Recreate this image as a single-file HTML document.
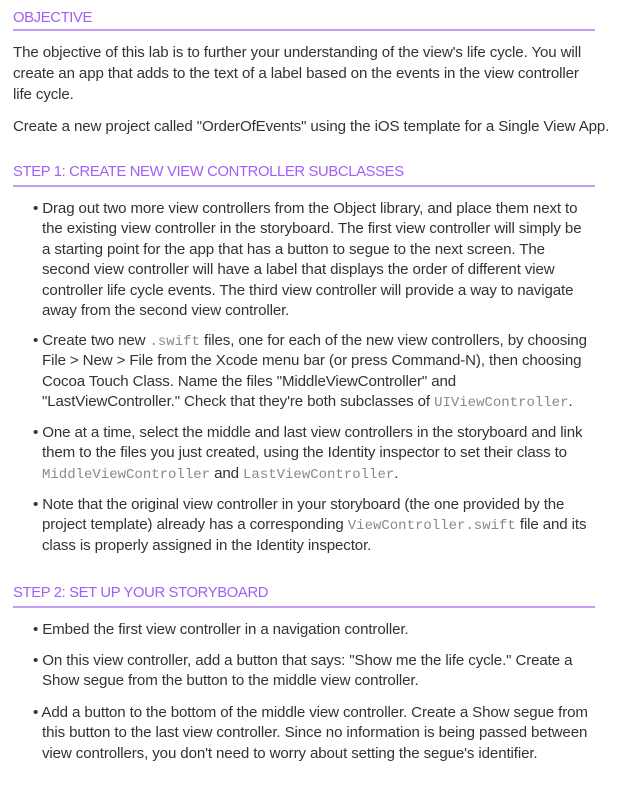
<!DOCTYPE html>
<html><head><meta charset="utf-8"><style>
body{margin:0;width:623px;height:785px;background:#fff;position:relative;overflow:hidden;font-family:"Liberation Sans",sans-serif;color:#333;}
.h{position:absolute;left:13px;color:#a35ef5;font-size:14.8px;letter-spacing:-0.35px;white-space:nowrap;line-height:20px;}
.r{position:absolute;left:13px;width:582px;height:1.5px;background:#c39cf5;}
.p{position:absolute;left:13px;font-size:15.1px;letter-spacing:-0.12px;white-space:nowrap;line-height:20.4px;}
.p div{height:20.4px;}
.b{left:33px;}
.b .t{padding-left:9px;}
.b .t:first-child{padding-left:0;}
code{font-family:"Liberation Mono",monospace;color:#8a8a8a;font-size:14px;letter-spacing:0;line-height:0;}
</style></head><body>
<div class="h" style="top:8px">OBJECTIVE</div>
<div class="r" style="top:29px"></div>
<div class="p" style="top:42px;line-height:21px">The objective of this lab is to further your understanding of the view's life cycle. You will<br>create an app that adds to the text of a label based on the events in the view controller<br>life cycle.</div>
<div class="p" style="top:117px">Create a new project called "OrderOfEvents" using the iOS template for a Single View App.</div>

<div class="h" style="top:162px">STEP 1: CREATE NEW VIEW CONTROLLER SUBCLASSES</div>
<div class="r" style="top:185px"></div>
<div class="p b" style="top:199px"><div class="t">• Drag out two more view controllers from the Object library, and place them next to</div><div class="t">the existing view controller in the storyboard. The first view controller will simply be</div><div class="t">a starting point for the app that has a button to segue to the next screen. The</div><div class="t">second view controller will have a label that displays the order of different view</div><div class="t">controller life cycle events. The third view controller will provide a way to navigate</div><div class="t">away from the second view controller.</div></div>
<div class="p b" style="top:331px"><div class="t">• Create two new <code>.swift</code> files, one for each of the new view controllers, by choosing</div><div class="t">File &gt; New &gt; File from the Xcode menu bar (or press Command-N), then choosing</div><div class="t">Cocoa Touch Class. Name the files "MiddleViewController" and</div><div class="t">"LastViewController." Check that they're both subclasses of <code>UIViewController</code>.</div></div>
<div class="p b" style="top:423px"><div class="t">• One at a time, select the middle and last view controllers in the storyboard and link</div><div class="t">them to the files you just created, using the Identity inspector to set their class to</div><div class="t"><code>MiddleViewController</code> and <code>LastViewController</code>.</div></div>
<div class="p b" style="top:495px"><div class="t">• Note that the original view controller in your storyboard (the one provided by the</div><div class="t">project template) already has a corresponding <code>ViewController.swift</code> file and its</div><div class="t">class is properly assigned in the Identity inspector.</div></div>

<div class="h" style="top:583px">STEP 2: SET UP YOUR STORYBOARD</div>
<div class="r" style="top:606px"></div>
<div class="p b" style="top:620px"><div class="t">• Embed the first view controller in a navigation controller.</div></div>
<div class="p b" style="top:651px"><div class="t">• On this view controller, add a button that says: "Show me the life cycle." Create a</div><div class="t">Show segue from the button to the middle view controller.</div></div>
<div class="p b" style="top:703px"><div class="t">• Add a button to the bottom of the middle view controller. Create a Show segue from</div><div class="t">this button to the last view controller. Since no information is being passed between</div><div class="t">view controllers, you don't need to worry about setting the segue's identifier.</div></div>
</body></html>
